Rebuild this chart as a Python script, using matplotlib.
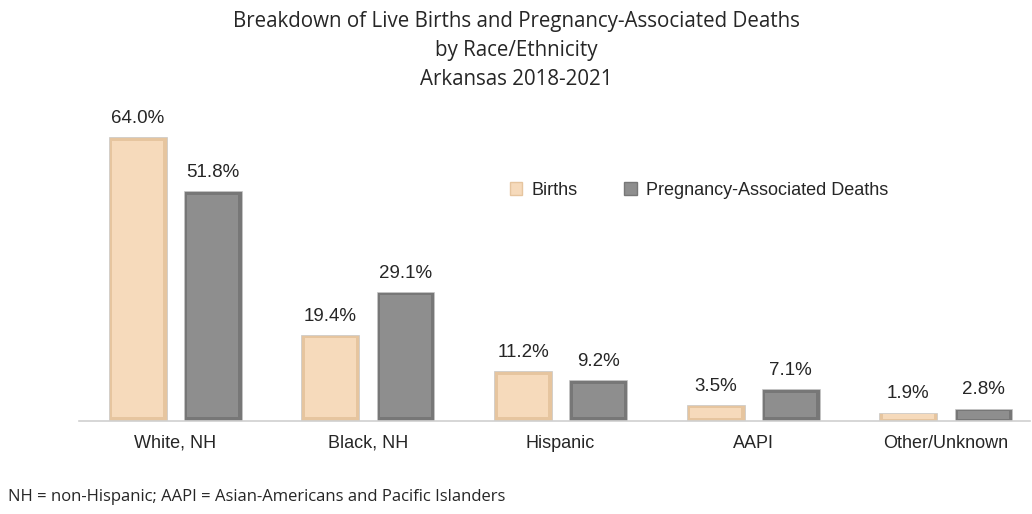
import matplotlib.pyplot as plt
import numpy as np
from matplotlib.patches import Patch

categories = ["White, NH", "Black, NH", "Hispanic", "AAPI", "Other/Unknown"]
births = [64.0, 19.4, 11.2, 3.5, 1.9]
deaths = [51.8, 29.1, 9.2, 7.1, 2.8]

births_face = "#f6dabb"
births_edge = "#e6c59f"
deaths_face = "#8e8e8e"
deaths_edge = "#777777"

plt.rcParams['font.family'] = ['Liberation Sans', 'DejaVu Sans']

fig = plt.figure(figsize=(10.32, 5.14), dpi=100)
ax = fig.add_axes([0.0765, 0.181, 0.9215, 0.585])

x = np.arange(len(categories))
w = 0.30
off = 0.195


def bevel_bars(xs, vals, face, edge):
    # outer bar in the darker shade, inner bar inset to fake the bevel
    ax.bar(xs, vals, width=w, color=edge, edgecolor="#c8c8c8", linewidth=0.5)
    inset_x = 0.018
    for xi, v in zip(xs, vals):
        inset_y = min(0.8, v * 0.18)
        ax.bar(xi, v - 2 * inset_y, width=w - 2 * inset_x, bottom=inset_y,
               color=face, linewidth=0)
    for xi, v in zip(xs, vals):
        ax.text(xi, v + 2.3, f"{v:.1f}%", ha="center", va="bottom",
                fontsize=13.5, color="#262626")


bevel_bars(x - off, births, births_face, births_edge)
bevel_bars(x + off, deaths, deaths_face, deaths_edge)

ax.set_xlim(-0.5, 4.436)
ax.set_ylim(0, 67.8)
ax.set_xticks(x)
ax.set_xticklabels(categories, fontsize=13, color="#262626")
ax.tick_params(axis="x", length=0, pad=10)
ax.set_yticks([])
for s in ["top", "right", "left"]:
    ax.spines[s].set_visible(False)
ax.spines["bottom"].set_color("#d0d0d0")
ax.spines["bottom"].set_linewidth(1.2)

handles = [Patch(facecolor=births_face, edgecolor=births_edge, linewidth=1),
           Patch(facecolor=deaths_face, edgecolor=deaths_edge, linewidth=1)]
ax.legend(handles, ["Births", "Pregnancy-Associated Deaths"], loc="center",
          bbox_to_anchor=(0.652, 0.767), ncol=2, frameon=False, fontsize=13,
          handlelength=0.7, handleheight=0.7, handletextpad=0.5, columnspacing=2.6,
          labelcolor="#262626")

fig.text(0.5, 0.979, "Breakdown of Live Births and Pregnancy-Associated Deaths\nby Race/Ethnicity\nArkansas 2018-2021",
         ha="center", va="top", fontsize=14.8, color="#262626", linespacing=1.5,
         family=["Open Sans", "DejaVu Sans"])
fig.text(0.008, 0.033, "NH = non-Hispanic; AAPI = Asian-Americans and Pacific Islanders",
         ha="left", va="center", fontsize=12, color="#262626",
         family=["Open Sans", "DejaVu Sans"])

fig.savefig("out.png", dpi=100, facecolor="white")
